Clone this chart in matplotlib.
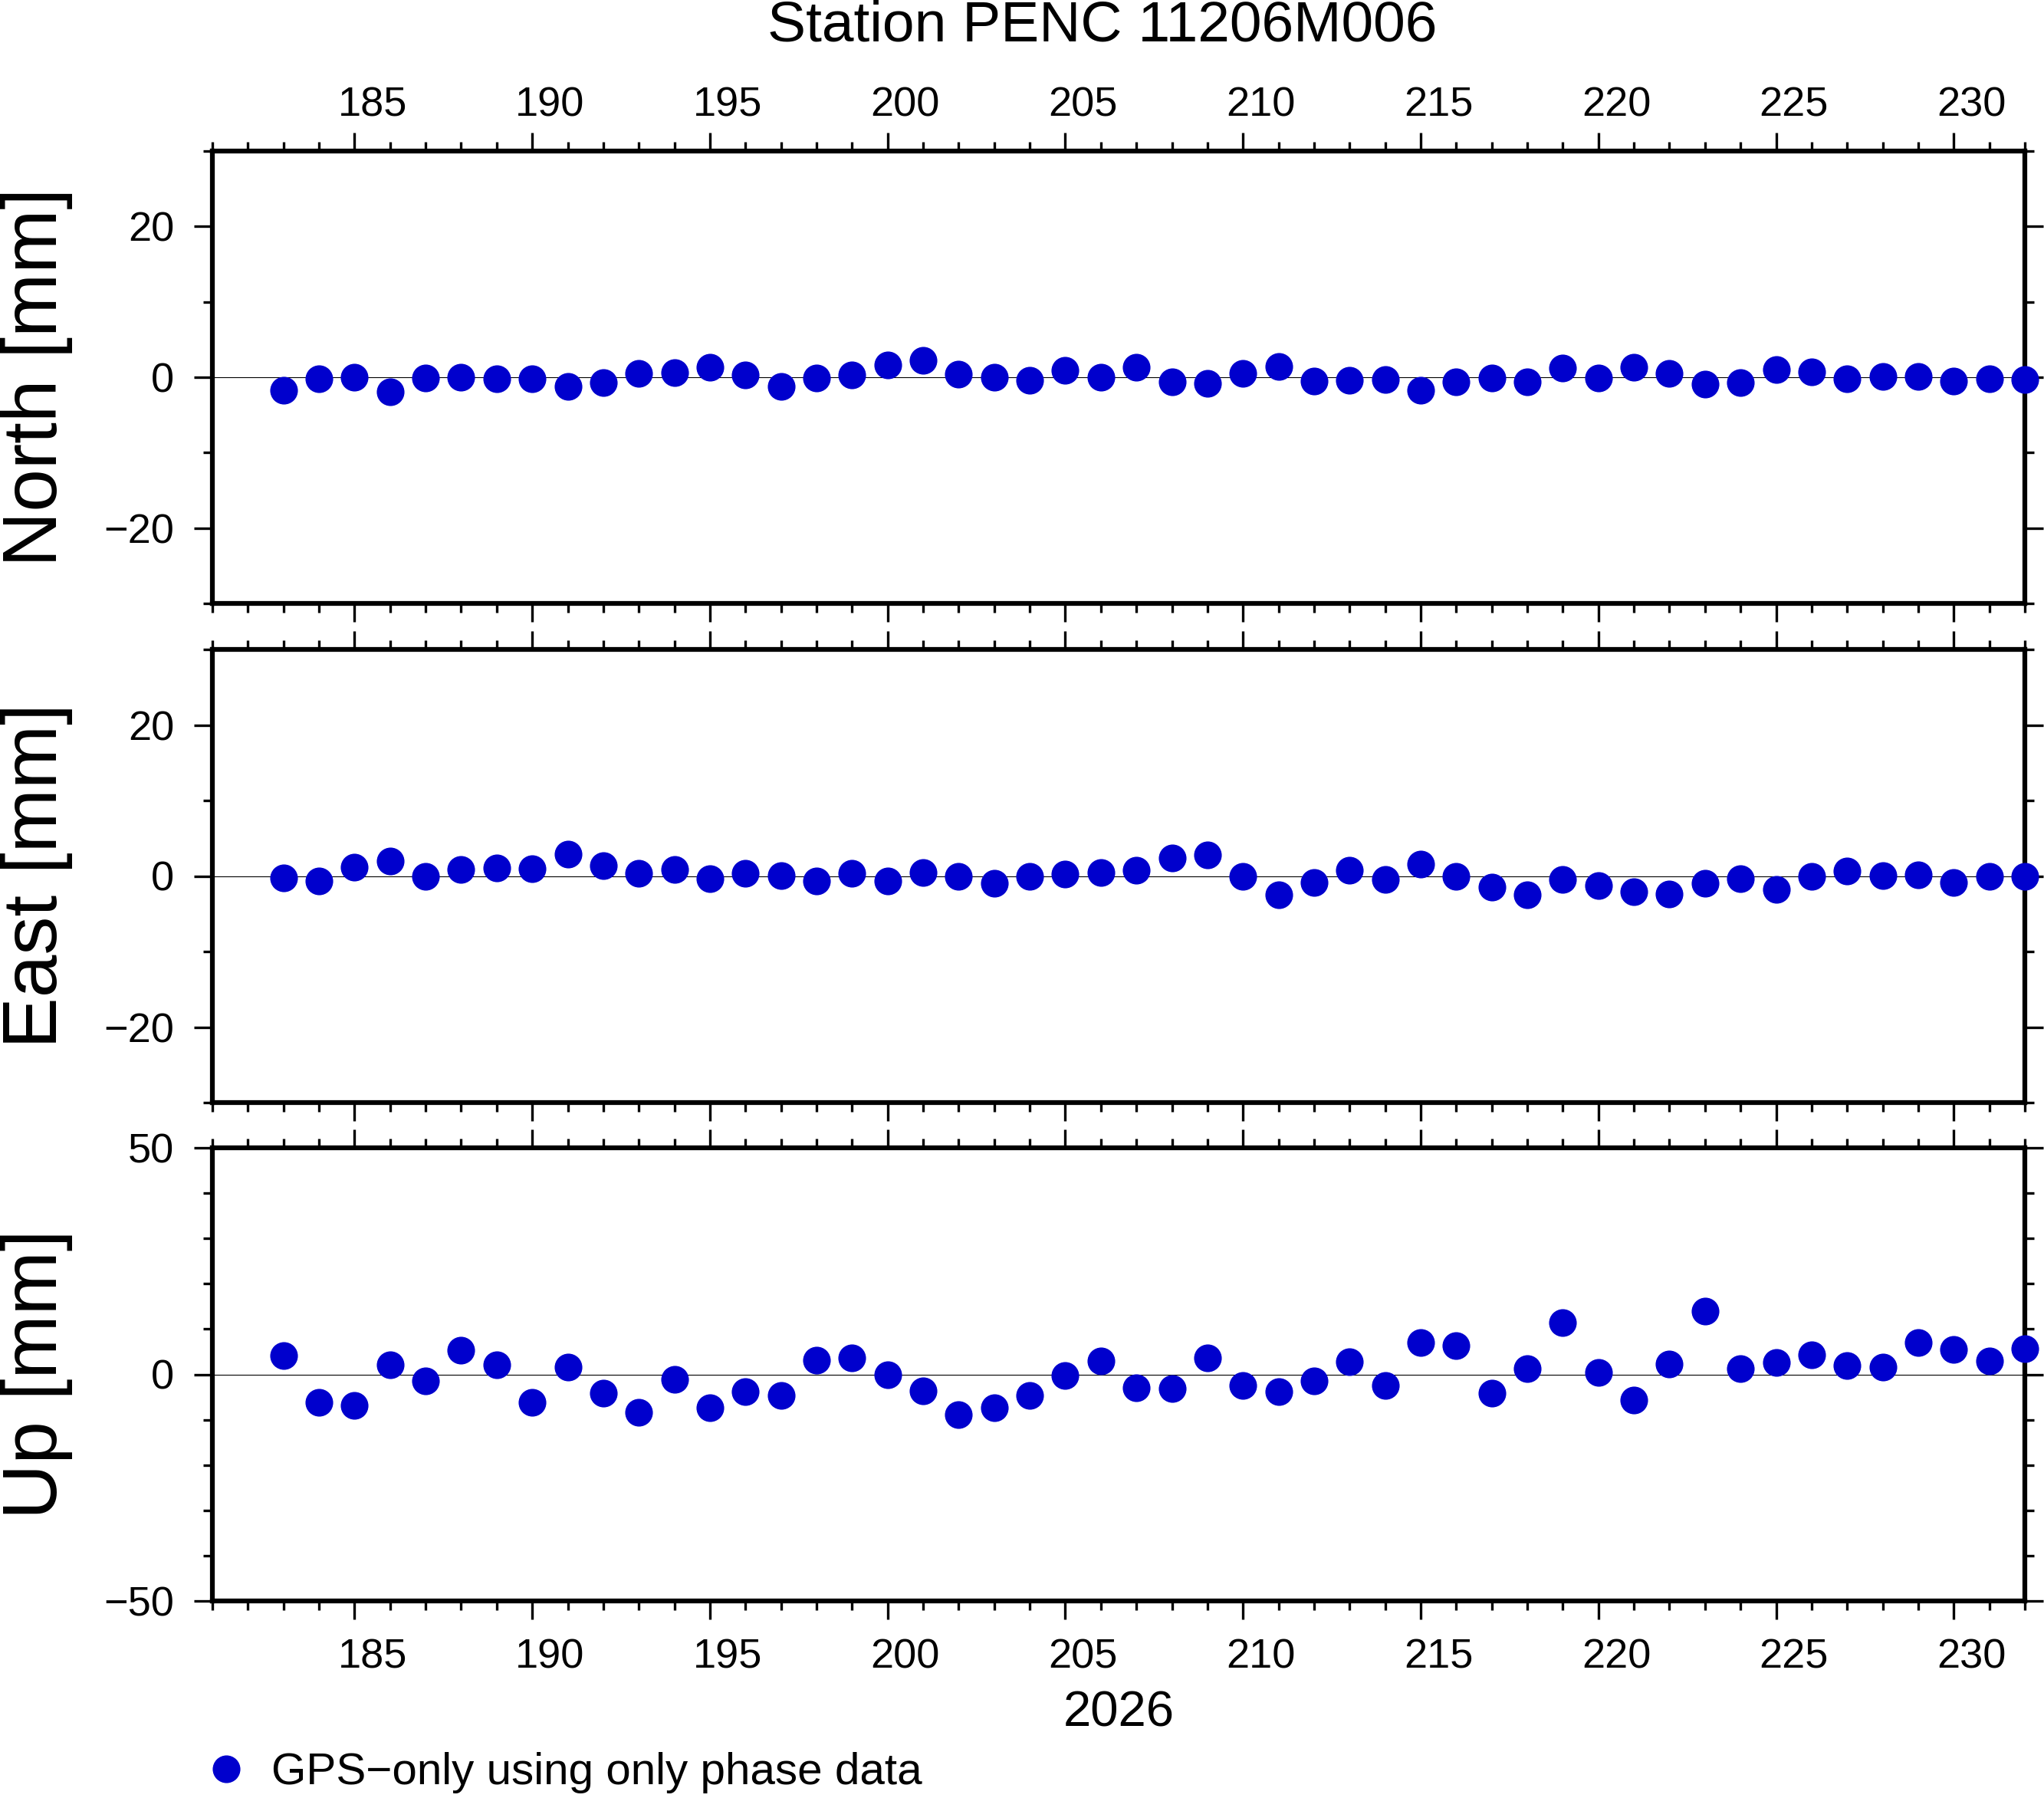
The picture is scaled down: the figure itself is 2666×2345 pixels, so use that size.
import matplotlib
matplotlib.use("Agg")
import matplotlib.pyplot as plt
from matplotlib.ticker import FixedLocator, MultipleLocator, NullFormatter

plt.rcParams['font.family'] = ['Liberation Sans', 'DejaVu Sans']

# ---- data ----
days = list(range(183, 233))
north = [-1.7, -0.2, 0.0, -1.9, -0.1, 0.05, -0.2, -0.2, -1.2, -0.7,
         0.5, 0.6, 1.3, 0.3, -1.2, -0.15, 0.3, 1.6, 2.2, 0.4,
         0.0, -0.4, 0.9, 0.0, 1.3, -0.6, -0.85, 0.5, 1.4, -0.5,
         -0.4, -0.3, -1.75, -0.65, -0.1, -0.65, 1.2, -0.1, 1.3, 0.5,
         -0.9, -0.7, 1.0, 0.7, -0.2, 0.15, 0.15, -0.5, -0.2, -0.3]
east = [-0.3, -0.7, 1.2, 2.0, 0.0, 0.9, 1.1, 1.0, 2.9, 1.4,
        0.35, 0.9, -0.4, 0.4, 0.1, -0.65, 0.4, -0.65, 0.5, -0.1,
        -1.0, -0.1, 0.3, 0.5, 0.8, 2.4, 2.8, 0.0, -2.5, -0.85,
        0.8, -0.5, 1.6, -0.1, -1.5, -2.5, -0.5, -1.3, -2.05, -2.35,
        -1.0, -0.4, -1.75, -0.05, 0.7, 0.1, 0.2, -0.85, -0.1, -0.1]
up = [4.1, -6.1, -6.9, 2.1, -1.5, 5.3, 2.1, -6.1, 1.6, -4.1,
      -8.3, -1.1, -7.4, -3.8, -4.6, 3.1, 3.6, -0.1, -3.7, -8.8,
      -7.3, -4.7, -0.3, 2.9, -2.9, -3.1, 3.6, -2.4, -3.8, -1.5,
      2.8, -2.5, 7.1, 6.3, -4.1, 1.2, 11.4, 0.35, -5.6, 2.2,
      13.9, 1.35, 2.6, 4.3, 1.9, 1.6, 7.1, 5.5, 2.9, 5.6]

components = ["North [mm]", "East [mm]", "Up [mm]"]
series = [north, east, up]
ylims = [(-30, 30), (-30, 30), (-50, 50)]
ymajor = [20, 20, 50]
yminor = [10, 10, 10]

xlim = (181, 232)
day_major = list(range(185, 231, 5))
day_labels = [str(d) for d in day_major]

title = "Station PENC 11206M006"
year_label = "2026"
legend_label = "GPS\u2212only using only phase data"
color = "#0000CD"

# ---- figure ----
W, H = 2666, 2345
fig = plt.figure(figsize=(W / 100, H / 100), dpi=100)

left = 277 / W
width = (2641 - 277) / W
panel_px = [(197, 787), (847, 1438), (1497, 2088)]

spine_lw = 4.5
tick_w = 2.4
maj_len = 17
min_len = 8.5

axes = []
line_handle = None
for i, (name, vals) in enumerate(zip(components, series)):
    top_px, bot_px = panel_px[i]
    ax = fig.add_axes([left, 1 - bot_px / H, width, (bot_px - top_px) / H])
    axes.append(ax)
    ax.set_xlim(*xlim)
    ax.set_ylim(*ylims[i])
    ax.axhline(0, color='black', lw=0.8, zorder=1)
    (ln,) = ax.plot(days, vals, linestyle='none', marker='o', markersize=26,
                    color=color, markeredgewidth=0, clip_on=False, zorder=5,
                    label=legend_label)
    line_handle = ln

    for s in ax.spines.values():
        s.set_linewidth(spine_lw)
        s.set_zorder(3)

    ax.xaxis.set_major_locator(FixedLocator(day_major))
    ax.xaxis.set_minor_locator(MultipleLocator(1))
    ax.xaxis.set_major_formatter(NullFormatter())
    ax.yaxis.set_major_locator(MultipleLocator(ymajor[i]))
    ax.yaxis.set_minor_locator(MultipleLocator(yminor[i]))

    ax.tick_params(axis='both', which='both', direction='out', width=tick_w,
                   top=True, bottom=True, left=True, right=True,
                   labeltop=False, labelbottom=False, labelright=False)
    ax.tick_params(axis='both', which='major', length=maj_len)
    ax.tick_params(axis='both', which='minor', length=min_len)
    ax.tick_params(axis='y', which='major', labelsize=39, pad=19)

    ax.set_ylabel(name, fontsize=72)
    ax.yaxis.set_label_coords(-0.077, 0.5)

    # day labels centred on the days (half a day past the tick)
    if i == 0 or i == 2:
        loc = 'top' if i == 0 else 'bottom'
        sec = ax.secondary_xaxis(loc)
        sec.set_xticks([d + 0.5 for d in day_major], labels=day_labels)
        sec.tick_params(axis='x', which='both', length=0, labelsize=39,
                        pad=25 if i == 0 else 35)
        sec.xaxis.set_minor_locator(FixedLocator([]))
        for s in sec.spines.values():
            s.set_visible(False)

fig.text(1438 / W, 1 - 54 / H, title, ha='center', va='baseline', fontsize=54)
fig.text(0.5 * (277 + 2641) / W, 1 - 2251 / H, year_label, ha='center',
         va='baseline', fontsize=47)

fig.legend(handles=[line_handle], labels=[legend_label], loc='center left',
           bbox_to_anchor=(266 / W, 1 - 2312 / H), frameon=False, fontsize=42,
           handlelength=1.0, handletextpad=0.5, borderpad=0, borderaxespad=0)

fig.savefig("out.png", dpi=100)
